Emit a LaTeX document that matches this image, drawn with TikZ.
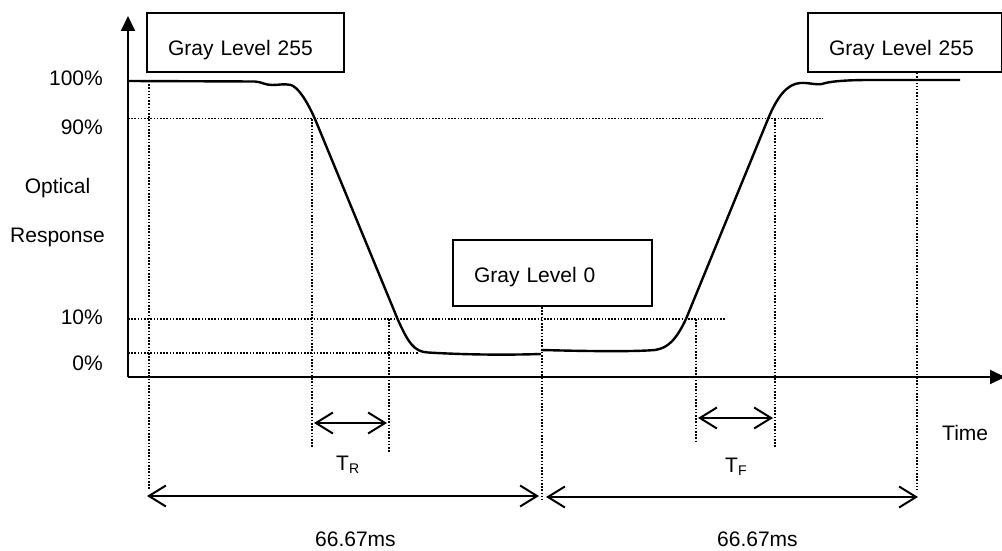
\documentclass[tikz,border=0pt]{standalone}
\usepackage{fontspec}
\setmainfont{Liberation Sans}
\usetikzlibrary{arrows.meta}
\tikzset{
  lbl/.style={inner sep=0pt, font=\fontsize{21}{25}\selectfont},
  graybox/.style={draw, line width=2pt, inner ysep=0pt, inner xsep=21pt, align=left, font=\fontsize{21}{25}\selectfont},
  axisline/.style={line width=2pt},
  respcurve/.style={line width=2.4pt, line join=round},
  dotline/.style={line width=1.5pt, dash pattern=on 1.5pt off 1.7pt},
  dimarrow/.style={line width=2pt, {Straight Barb[length=17pt,width=21pt,line width=2pt]}-{Straight Barb[length=17pt,width=21pt,line width=2pt]}},
}
\begin{document}
\begin{tikzpicture}[x=1pt,y=-1pt]
\useasboundingbox (0,0) rectangle (1002,551);

% boxes
\node[graybox, anchor=north west, text width=155pt, text height=43pt, text depth=16pt] (gl255a) at (146,12) {Gray Level 255};
\node[graybox, anchor=north west, text width=157pt, text height=42pt, text depth=24pt] (gl0) at (452,239) {Gray Level 0};
\node[graybox, anchor=north west, text width=152pt, text height=43pt, text depth=16pt] (gl255b) at (807,12) {Gray Level 255};

% axis labels
\node[lbl, anchor=base east] (p100) at (103,85.5) {100\%};
\node[lbl, anchor=base east] (p90) at (103,134.5) {90\%};
\node[lbl, anchor=base] (opt) at (57.5,193) {Optical};
\node[lbl, anchor=base] (resp) at (57.5,242) {Response};
\node[lbl, anchor=base east] (p10) at (103,324.5) {10\%};
\node[lbl, anchor=base east] (p0) at (103,370.5) {0\%};
\node[lbl, anchor=base west] (time) at (942,440) {Time};
\node[lbl, anchor=base west] (tr) at (336,470) {T\raisebox{-3pt}{\fontsize{14}{14}\selectfont R}};
\node[lbl, anchor=base west] (tf) at (725,472) {T\raisebox{-3pt}{\fontsize{14}{14}\selectfont F}};
\node[lbl, anchor=base west] (ms1) at (315,546) {66.67ms};
\node[lbl, anchor=base west] (ms2) at (717,546) {66.67ms};

% coordinates
\coordinate (O) at (128,377);
\coordinate (ytop) at (128,16);
\coordinate (xend) at (1005,377);
\coordinate (h90a) at (128,118.5); \coordinate (h90b) at (823,118.5);
\coordinate (h10a) at (128,319);   \coordinate (h10b) at (725,319);
\coordinate (h0a) at (128,353);    \coordinate (h0b) at (418,353);
\coordinate (vLa) at (149,81);     \coordinate (vLb) at (149,490);
\coordinate (vR1a) at (312,119);   \coordinate (vR1b) at (312,448);
\coordinate (vR2a) at (389,319);   \coordinate (vR2b) at (389,452);
\coordinate (vCa) at (542,307);    \coordinate (vCb) at (542,500);
\coordinate (vF1a) at (696,319);   \coordinate (vF1b) at (696,443);
\coordinate (vF2a) at (775,119);   \coordinate (vF2b) at (775,448);
\coordinate (vRRa) at (917,73);    \coordinate (vRRb) at (917,490);
\coordinate (trA) at (314,423);    \coordinate (trB) at (387,423);
\coordinate (tfA) at (698,418);    \coordinate (tfB) at (773,418);
\coordinate (big1A) at (147,496);  \coordinate (big1B) at (539,496);
\coordinate (big2A) at (546,497);  \coordinate (big2B) at (918,497);

% dotted guide lines
\draw[dotline] (h90a) -- (h90b);
\draw[dotline] (h10a) -- (h10b);
\draw[dotline] (h0a) -- (h0b);
\draw[dotline] (vLa) -- (vLb);
\draw[dotline] (vR1a) -- (vR1b);
\draw[dotline] (vR2a) -- (vR2b);
\draw[dotline] (vCa) -- (vCb);
\draw[dotline] (vF1a) -- (vF1b);
\draw[dotline] (vF2a) -- (vF2b);
\draw[dotline] (vRRa) -- (vRRb);

% axes
\draw[axisline, -{Triangle[length=15pt,width=14pt]}] (O) -- (ytop);
\draw[axisline, -{Triangle[length=15pt,width=14pt]}] (O) -- (xend);

% response curve
\draw[respcurve] (128,81) -- (255,81.5)
  .. controls (262,82) and (265,85) .. (272,85)
  .. controls (279,85) and (284,83.5) .. (291,85)
  .. controls (298,87.5) and (306,99) .. (315,119)
  -- (398,320)
  .. controls (408,342) and (414,352) .. (428,352.5)
  .. controls (470,355) and (510,355) .. (541,354);
\draw[respcurve] (541,350)
  .. controls (580,351) and (630,352) .. (655,350)
  .. controls (668,348) and (676,340) .. (686,319)
  -- (768,119)
  .. controls (777,97) and (787,84) .. (800,83)
  .. controls (810,82.5) and (814,85) .. (822,84)
  .. controls (830,81) and (850,80) .. (870,80)
  -- (960,80);

% dimension arrows
\draw[dimarrow] (trA) -- (trB);
\draw[dimarrow] (tfA) -- (tfB);
\draw[dimarrow] (big1A) -- (big1B);
\draw[dimarrow] (big2A) -- (big2B);
\end{tikzpicture}
\end{document}
